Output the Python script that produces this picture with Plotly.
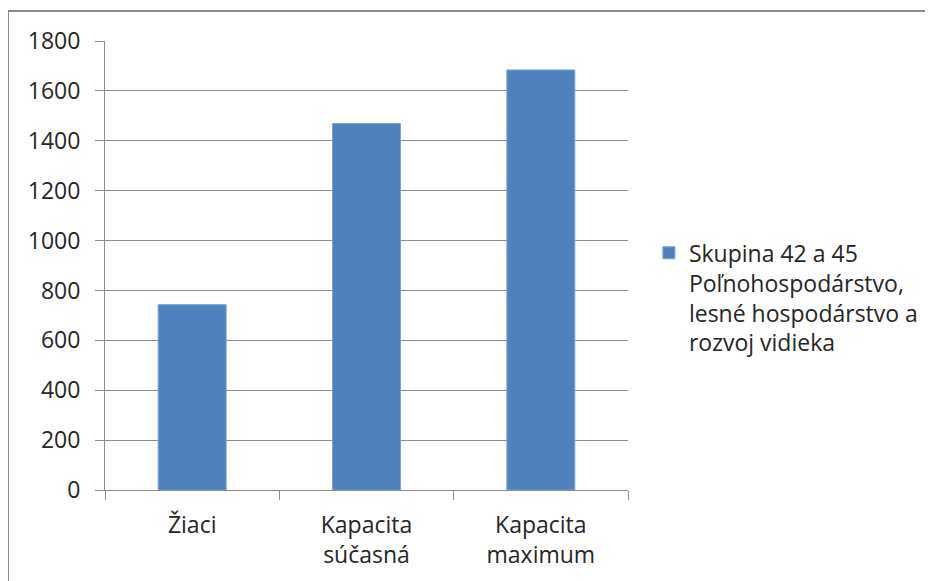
import plotly.graph_objects as go

categories = ["Žiaci", "Kapacita<br>súčasná", "Kapacita<br>maximum"]
values = [743, 1469, 1684]
series_name = "Skupina 42 a 45<br>Poľnohospodárstvo,<br>lesné hospodárstvo a<br>rozvoj vidieka"
y_ticks = [0, 200, 400, 600, 800, 1000, 1200, 1400, 1600, 1800]

FONT = "Open Sans"
FS = 23
TXT = "#262626"
GRID = "#8c8c8c"

fig = go.Figure()
fig.add_trace(go.Bar(
    x=categories, y=values, name=series_name,
    marker=dict(color="#4F81BD", line=dict(color="#7EA3D0", width=1)),
    showlegend=True,
))

fig.update_layout(
    width=925, height=573,
    margin=dict(l=97, r=305, t=33, b=91, autoexpand=False),
    paper_bgcolor="white", plot_bgcolor="white",
    font=dict(family=FONT, size=FS, color=TXT),
    bargap=0.61,
    showlegend=True,
    legend=dict(
        x=1.040, xanchor="left", y=0.428, yanchor="middle",
        valign="top", font=dict(family=FONT, size=FS, color=TXT),
        itemwidth=30, tracegroupgap=0,
    ),
    shapes=[
        dict(type="line", xref="paper", yref="paper",
             x0=-0.1855, x1=1.7, y0=1.0668, y1=1.0668,
             line=dict(color="#8a8a8a", width=2)),
        dict(type="line", xref="paper", yref="paper",
             x0=-0.1855, x1=-0.1855, y0=1.0668, y1=-0.3,
             line=dict(color="#8a8a8a", width=2)),
    ],
)

fig.update_yaxes(
    range=[0, 1800], tickvals=y_ticks,
    showgrid=True, gridcolor=GRID, gridwidth=1,
    showline=True, linecolor=GRID, linewidth=1,
    ticks="outside", ticklen=9, tickcolor=GRID,
    ticklabelstandoff=10, zeroline=False,
    tickfont=dict(family=FONT, size=FS, color=TXT),
)
fig.update_xaxes(
    showline=True, linecolor=GRID, linewidth=1,
    ticks="outside", ticklen=9, tickcolor=GRID,
    tickson="boundaries", showgrid=False,
    ticklabelstandoff=14,
    tickfont=dict(family=FONT, size=FS, color=TXT),
)

fig.write_html("out.html")
